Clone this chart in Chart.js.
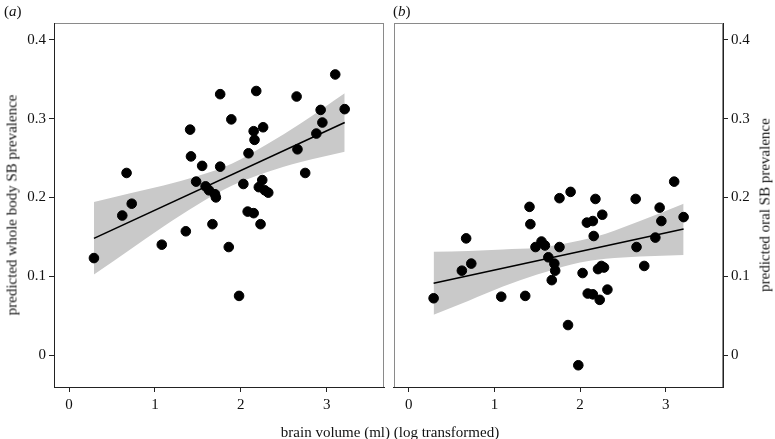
<!DOCTYPE html>
<html>
<head>
<meta charset="utf-8">
<script src="https://cdn.jsdelivr.net/npm/chart.js@4/dist/chart.umd.min.js"></script>
<style>
  body { margin: 0; background: #fff; }
  #wrap { position: relative; width: 775px; height: 439px; overflow: hidden; font-family: 'Liberation Serif', serif; color: #111; }
  canvas { position: absolute; top: 0; }
  .lbl { position: absolute; font-size: 15px; white-space: nowrap; line-height: 1; }
  .rot { transform: translate(-50%, -50%) rotate(-90deg); }
</style>
</head>
<body>
<div id="wrap">
  <canvas id="chartA" width="390" height="439" style="left:0"></canvas>
  <canvas id="chartB" width="387" height="439" style="left:388px"></canvas>
  <div class="lbl" style="left:4px;top:4px">(<i>a</i>)</div>
  <div class="lbl" style="left:393px;top:4px">(<i>b</i>)</div>
  <div class="lbl" style="left:390px;top:432px;transform:translate(-50%,-50%)">brain volume (ml) (log transformed)</div>
  <div class="lbl rot" style="left:12px;top:205px">predicted whole body SB prevalence</div>
  <div class="lbl rot" style="left:765px;top:205px">predicted oral SB prevalence</div>
</div>
<script>
// brain volume (log) per species, shared by both panels
const brainVolume = [0.29, 0.62, 0.67, 0.73, 1.08, 1.36, 1.41, 1.42, 1.48, 1.55, 1.59, 1.63, 1.67, 1.70, 1.71,
    1.76, 1.76, 1.86, 1.89, 1.98, 2.03, 2.08, 2.09, 2.15, 2.15, 2.16, 2.18, 2.21, 2.23, 2.25, 2.26, 2.28, 2.32,
    2.65, 2.66, 2.75, 2.88, 2.93, 2.95, 3.10, 3.21];
const wholeBody = [0.123, 0.177, 0.231, 0.192, 0.140, 0.157, 0.286, 0.252, 0.220, 0.240, 0.214, 0.209, 0.166, 0.204, 0.200,
    0.331, 0.239, 0.137, 0.299, 0.075, 0.217, 0.182, 0.256, 0.180, 0.284, 0.273, 0.335, 0.213, 0.166, 0.222, 0.289, 0.209, 0.206,
    0.328, 0.261, 0.231, 0.281, 0.311, 0.295, 0.356, 0.312];
const oral = [0.072, 0.107, 0.148, 0.116, 0.074, 0.075, 0.188, 0.166, 0.137, 0.144, 0.139, 0.124, 0.095, 0.116, 0.107,
    0.199, 0.137, 0.038, 0.207, -0.013, 0.104, 0.168, 0.078, 0.170, 0.077, 0.151, 0.198, 0.109, 0.070, 0.113, 0.178, 0.111, 0.083,
    0.198, 0.137, 0.113, 0.149, 0.187, 0.170, 0.220, 0.175];

// fitted line and confidence band
const fitX = [0.29, 3.21];
const wholeFit = [0.148, 0.295];
const oralFit = [0.091, 0.160];
const bandX = [0.29, 0.7, 1.1, 1.5, 1.9, 2.3, 2.7, 3.21];
const wholeUpper = [0.194, 0.205, 0.215, 0.227, 0.243, 0.267, 0.294, 0.332];
const wholeLower = [0.102, 0.133, 0.163, 0.191, 0.215, 0.232, 0.245, 0.258];
const oralUpper = [0.131, 0.132, 0.134, 0.136, 0.143, 0.154, 0.170, 0.192];
const oralLower = [0.051, 0.069, 0.087, 0.102, 0.115, 0.122, 0.125, 0.127];

const xTicks = [0, 1, 2, 3];
const yTicks = [0, 0.1, 0.2, 0.3, 0.4];

const pts = (xs, ys) => xs.map((x, i) => ({x: x, y: ys[i]}));
const tickFont = {family: 'Liberation Serif', size: 15};

// grey frame round the plot area, under the axes
const frame = {
    id: 'frame',
    beforeDraw(chart) {
        const a = chart.chartArea, c = chart.ctx;
        c.save();
        c.strokeStyle = '#8a8a8a';
        c.lineWidth = 1;
        c.strokeRect(Math.round(a.left) + 0.5, Math.round(a.top) + 0.5, Math.round(a.right - a.left) - 1, Math.round(a.bottom - a.top));
        c.restore();
    }
};

function makePanel(id, ys, fit, upper, lower, side, padding, yWidth) {
    return new Chart(document.getElementById(id), {
        type: 'scatter',
        data: {
            datasets: [
                {data: pts(brainVolume, ys), backgroundColor: '#000', borderColor: '#000', pointRadius: 4.8, order: 0},
                {data: pts(fitX, fit), showLine: true, borderColor: '#000', borderWidth: 1.6, pointRadius: 0, order: 1},
                {data: pts(bandX, upper), showLine: true, borderWidth: 0, pointRadius: 0, cubicInterpolationMode: 'monotone',
                    fill: '+1', backgroundColor: '#c9c9c9', order: 2},
                {data: pts(bandX, lower), showLine: true, borderWidth: 0, pointRadius: 0, cubicInterpolationMode: 'monotone', order: 3}
            ]
        },
        options: {
            responsive: false,
            animation: false,
            layout: {padding: padding},
            plugins: {legend: {display: false}, tooltip: {enabled: false}},
            scales: {
                x: {
                    type: 'linear', min: -0.175, max: 3.67,
                    afterFit(s) { s.height = 30; },
                    afterBuildTicks(s) { s.ticks = xTicks.map(v => ({value: v})); },
                    border: {color: '#222', width: 1},
                    grid: {drawOnChartArea: false, tickLength: 5, color: '#222'},
                    ticks: {font: tickFont, color: '#111', padding: 4, maxRotation: 0, callback: v => String(v)}
                },
                y: {
                    type: 'linear', position: side, min: -0.0406, max: 0.4213,
                    afterFit(s) { s.width = yWidth; },
                    afterBuildTicks(s) { s.ticks = yTicks.map(v => ({value: v})); },
                    border: {color: '#222', width: 1},
                    grid: {drawOnChartArea: false, tickLength: 5, color: '#222'},
                    ticks: {font: tickFont, color: '#111', padding: 3, callback: v => String(v)}
                }
            }
        },
        plugins: [frame]
    });
}

makePanel('chartA', wholeBody, wholeFit, wholeUpper, wholeLower, 'left', {left: 0, right: 3.5, top: 23, bottom: 22}, 54);
makePanel('chartB', oral, oralFit, oralUpper, oralLower, 'right', {left: 1, right: 0, top: 23, bottom: 22}, 52);
</script>
</body>
</html>
